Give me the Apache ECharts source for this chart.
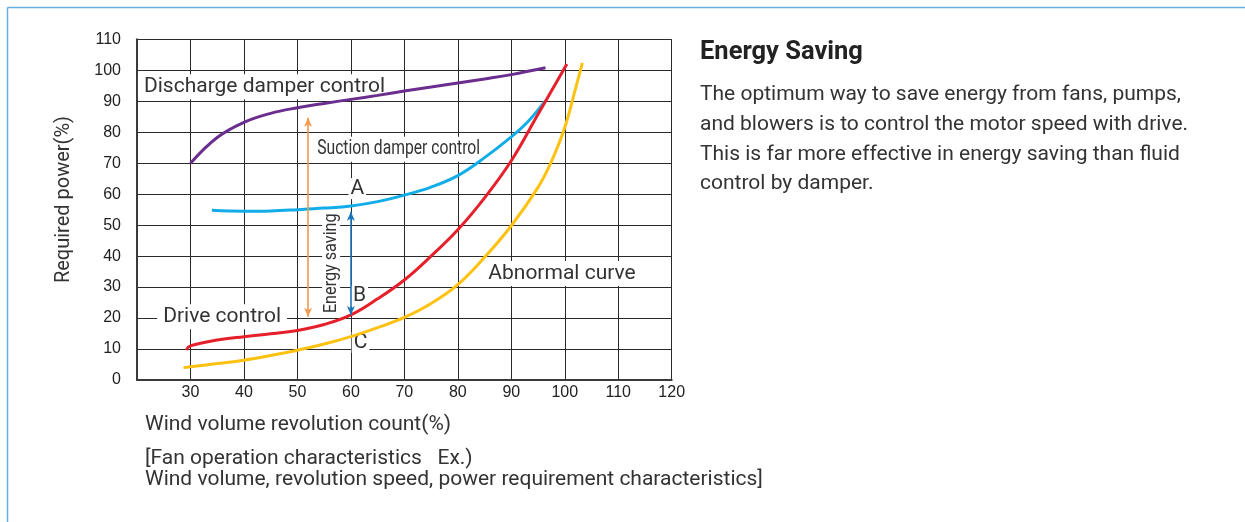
<!DOCTYPE html>
<html>
<head>
<meta charset="utf-8">
<style>
html,body{margin:0;padding:0;background:#fff;}
#c{width:1245px;height:522px;}
</style>
<script src="https://cdn.jsdelivr.net/npm/echarts@6/dist/echarts.min.js"></script>
</head>
<body>
<div id="c"></div>
<script>
// ---- data ----
const xTickValues = [30, 40, 50, 60, 70, 80, 90, 100, 110, 120];
const yTickValues = [0, 10, 20, 30, 40, 50, 60, 70, 80, 90, 100, 110];

const dischargeDamper = [[30,70],[35,78.3],[40,83.2],[45,86.1],[50,87.9],[55,89.3],[60,90.6],[65,91.9],[70,93.3],[75,94.6],[80,95.9],[85,97.2],[90,98.6],[96.4,100.8]];
const suctionDamper = [[34,54.8],[40,54.5],[45,54.6],[50,55.0],[55,55.5],[60,56.2],[65,57.6],[70,59.7],[75,62.3],[80,66.0],[85,71.8],[90,78.5],[93,83.2],[96.4,90.2]];
const driveControl = [[29.2,9.7],[30,11.0],[35,12.9],[40,14.0],[45,14.9],[50,16.0],[55,17.9],[60,21.0],[65,26.2],[70,32.3],[75,40.0],[80,48.5],[85,58.8],[90,70.8],[95,85.8],[100.4,102.0]];
const abnormalCurve = [[28.7,4.0],[30,4.3],[35,5.3],[40,6.4],[45,7.9],[50,9.6],[55,11.6],[60,14.0],[65,16.9],[70,20.2],[75,24.7],[80,30.8],[85,39.6],[90,49.8],[95,62.2],[97.5,70.5],[100,81.5],[102,94.0],[103.3,102.4]];

// energy-saving arrows: [x, yFrom, yTo]
const dischargeSaving = [52, 20.4, 84.7];
const suctionSaving = [60, 21.0, 54.3];

// annotation texts
const curveLabels = ['Discharge damper control', 'Suction damper control', 'Drive control', 'Abnormal curve'];
const pointLabels = ['A', 'B', 'C'];
const arrowLabel = 'Energy saving';

const COLORS = {purple:'#6b2e8f', blue:'#12ade8', red:'#e5202b', yellow:'#fdc211', orange:'#f39a4e', arrowBlue:'#1c76bc', text:'#333'};
const FONT = 'Roboto, "Liberation Sans", sans-serif';

const chart = echarts.init(document.getElementById('c'), null, {renderer:'canvas'});

const line = (name, data, color) => ({
  name, type:'line', data, showSymbol:false, smooth:0.4,
  lineStyle:{color, width:3}, itemStyle:{color}, z:3, silent:true
});

chart.setOption({
  animation:false,
  backgroundColor:'#fff',
  grid:{left:137, top:39.3, right:573.3, bottom:142},
  xAxis:{
    type:'value', min:20, max:120, interval:10,
    axisLine:{show:true, onZero:false, lineStyle:{color:'#3a3a3a', width:2}},
    axisTick:{show:false},
    axisLabel:{color:'#222', fontFamily:'"Liberation Sans", Arial, sans-serif', fontSize:16, margin:5,
      formatter:v => xTickValues.includes(v) ? String(v) : ''},
    splitLine:{show:true, lineStyle:{color:'#2a2a2a', width:1}}
  },
  yAxis:{
    type:'value', min:0, max:110, interval:10,
    axisLine:{show:true, onZero:false, lineStyle:{color:'#3a3a3a', width:2}},
    axisTick:{show:false},
    axisLabel:{color:'#222', fontFamily:'"Liberation Sans", Arial, sans-serif', fontSize:16, margin:16,
      formatter:v => yTickValues.includes(v) ? String(v) : ''},
    splitLine:{show:true, lineStyle:{color:'#2a2a2a', width:1}}
  },
  series:[
    line(curveLabels[0], dischargeDamper, COLORS.purple),
    line(curveLabels[1], suctionDamper, COLORS.blue),
    line(curveLabels[2], driveControl, COLORS.red),
    line(curveLabels[3], abnormalCurve, COLORS.yellow),
    {
      name:arrowLabel, type:'line', data:[], silent:true, z:3,
      markLine:{
        silent:true, animation:false, symbol:['arrow','arrow'], symbolSize:[6,9],
        label:{show:false},
        data:[
          [{coord:[dischargeSaving[0], dischargeSaving[1]], lineStyle:{color:COLORS.orange, width:1.6, type:'solid'}},
           {coord:[dischargeSaving[0], dischargeSaving[2]]}],
          [{coord:[suctionSaving[0], suctionSaving[1]], lineStyle:{color:COLORS.arrowBlue, width:1.6, type:'solid'}},
           {coord:[suctionSaving[0], suctionSaving[2]]}]
        ]
      }
    }
  ]
});

const P = (x, y) => chart.convertToPixel({gridIndex:0}, [x, y]);

// annotation placement in data coordinates
const notes = [
  {text:curveLabels[0], at:[21.3,94.7], size:21, align:'left', pad:[2,6,2,6]},
  {text:curveLabels[1], at:[53.7,74.5], size:20.5, align:'left', pad:[2,4,2,4], sx:0.765},
  {text:curveLabels[2], at:[24.9,20.4], size:21, align:'left', pad:[2,6,2,6]},
  {text:curveLabels[3], at:[85.7,34.4], size:21, align:'left', pad:[2,6,2,6]},
  {text:pointLabels[0], at:[61.2,61.8], size:21, align:'center', pad:[0,2,0,2]},
  {text:pointLabels[1], at:[61.6,27.1], size:21, align:'center', pad:[0,2,0,2]},
  {text:pointLabels[2], at:[61.8,12.1], size:21, align:'center', pad:[0,2,0,2]},
  {text:arrowLabel, at:[56.3,37.7], size:18, align:'center', pad:[0,2,0,2], sx:0.9, rot:Math.PI/2}
];

const gfx = [];
notes.forEach(n => {
  const p = P(n.at[0], n.at[1]);
  gfx.push({
    type:'text', x:p[0], y:p[1], z:2, scaleX:n.sx || 1, rotation:n.rot || 0, silent:true,
    style:{
      text:n.text, x:n.align === 'left' ? -n.pad[3] : 0, y:0,
      align:n.align, verticalAlign:'middle',
      fill:COLORS.text, font:`${n.size}px ${FONT}`,
      backgroundColor:'#fff', padding:n.pad
    }
  });
});

// frame
gfx.push({type:'line', z:5, silent:true, shape:{x1:7.5, y1:7.5, x2:1245, y2:7.5}, style:{stroke:'#6aaee0', lineWidth:1.5}});
gfx.push({type:'line', z:5, silent:true, shape:{x1:7.5, y1:7.5, x2:7.5, y2:522}, style:{stroke:'#6aaee0', lineWidth:1.5}});

// axis titles & captions
gfx.push({type:'text', x:64, y:199.5, rotation:Math.PI/2, silent:true,
  style:{text:'Required power(%)', align:'center', verticalAlign:'middle', fill:COLORS.text, font:`20px ${FONT}`}});
const captions = [
  ['Wind volume revolution count(%)', 425],
  ['[Fan operation characteristics   Ex.)', 459],
  ['Wind volume, revolution speed, power requirement characteristics]', 480]
];
captions.forEach(c => gfx.push({type:'text', x:145, y:c[1], silent:true,
  style:{text:c[0], align:'left', verticalAlign:'middle', fill:COLORS.text, font:`21px ${FONT}`}}));

// right panel
gfx.push({type:'text', x:700, y:53, silent:true,
  style:{text:'Energy Saving', align:'left', verticalAlign:'middle', fill:'#222', font:`bold 25.5px ${FONT}`}});
const para = [
  'The optimum way to save energy from fans, pumps,',
  'and blowers is to control the motor speed with drive.',
  'This is far more effective in energy saving than fluid',
  'control by damper.'
];
para.forEach((t, i) => gfx.push({type:'text', x:700, y:95 + i * 29.7, silent:true,
  style:{text:t, align:'left', verticalAlign:'middle', fill:COLORS.text, font:`21px ${FONT}`}}));

chart.setOption({graphic:gfx});
</script>
</body>
</html>
